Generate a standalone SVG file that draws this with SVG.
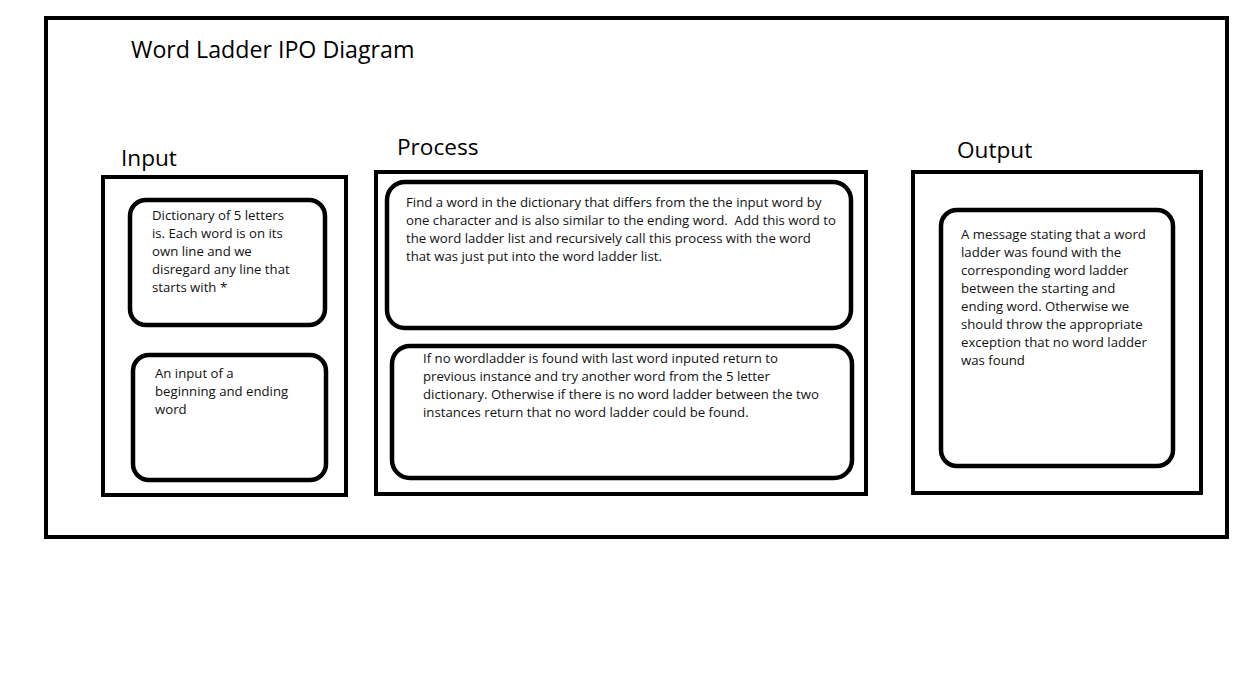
<svg xmlns="http://www.w3.org/2000/svg" width="1245" height="681" viewBox="0 0 1245 681">
<style>
.frame{fill:none;stroke:#000;stroke-width:4}
.inner{fill:#fff;stroke:#000;stroke-width:4.5}
.t{font-family:"Open Sans","Liberation Sans",sans-serif;font-size:13.2px;fill:#111;white-space:pre}
.h{font-family:"Open Sans","Liberation Sans",sans-serif;font-size:22.6px;fill:#000}
.ttl{font-family:"Open Sans","Liberation Sans",sans-serif;font-size:23.2px;fill:#000}
</style>
<rect width="1245" height="681" fill="#fff"/>
<rect class="frame" x="46" y="18" width="1181" height="519"/>
<text class="ttl" x="131" y="58">Word Ladder IPO Diagram</text>
<g id="input">
<text class="h" x="121" y="166">Input</text>
<rect class="frame" x="103" y="177" width="243" height="318"/>
<g id="input-dict">
<rect class="inner" x="130" y="200" width="195" height="125" rx="16"/>
<text class="t"><tspan x="152" y="220">Dictionary of 5 letters</tspan><tspan x="152" y="238">is. Each word is on its</tspan><tspan x="152" y="256">own line and we</tspan><tspan x="152" y="274">disregard any line that</tspan><tspan x="152" y="292">starts with *</tspan></text>
</g>
<g id="input-words">
<rect class="inner" x="133" y="355" width="193" height="125" rx="16"/>
<text class="t"><tspan x="155" y="378">An input of a</tspan><tspan x="155" y="396">beginning and ending</tspan><tspan x="155" y="414">word</tspan></text>
</g>
</g>
<g id="process">
<text class="h" x="397" y="155">Process</text>
<rect class="frame" x="376" y="172" width="490" height="322"/>
<g id="process-find">
<rect class="inner" x="387" y="182" width="464" height="146" rx="18"/>
<text class="t" xml:space="preserve"><tspan x="406" y="207">Find a word in the dictionary that differs from the the input word by</tspan><tspan x="406" y="225">one character and is also similar to the ending word.  Add this word to</tspan><tspan x="406" y="243">the word ladder list and recursively call this process with the word</tspan><tspan x="406" y="261">that was just put into the word ladder list.</tspan></text>
</g>
<g id="process-backtrack">
<rect class="inner" x="392" y="346" width="460" height="132" rx="18"/>
<text class="t"><tspan x="423" y="363">If no wordladder is found with last word inputed return to</tspan><tspan x="423" y="381">previous instance and try another word from the 5 letter</tspan><tspan x="423" y="399">dictionary. Otherwise if there is no word ladder between the two</tspan><tspan x="423" y="417">instances return that no word ladder could be found.</tspan></text>
</g>
</g>
<g id="output">
<text class="h" x="957" y="158">Output</text>
<rect class="frame" x="913" y="172" width="288" height="321"/>
<g id="output-msg">
<rect class="inner" x="941" y="210" width="232" height="256" rx="16"/>
<text class="t"><tspan x="961" y="239">A message stating that a word</tspan><tspan x="961" y="257">ladder was found with the</tspan><tspan x="961" y="275">corresponding word ladder</tspan><tspan x="961" y="293">between the starting and</tspan><tspan x="961" y="311">ending word. Otherwise we</tspan><tspan x="961" y="329">should throw the appropriate</tspan><tspan x="961" y="347">exception that no word ladder</tspan><tspan x="961" y="365">was found</tspan></text>
</g>
</g>
<g id="connectors"></g>
</svg>
